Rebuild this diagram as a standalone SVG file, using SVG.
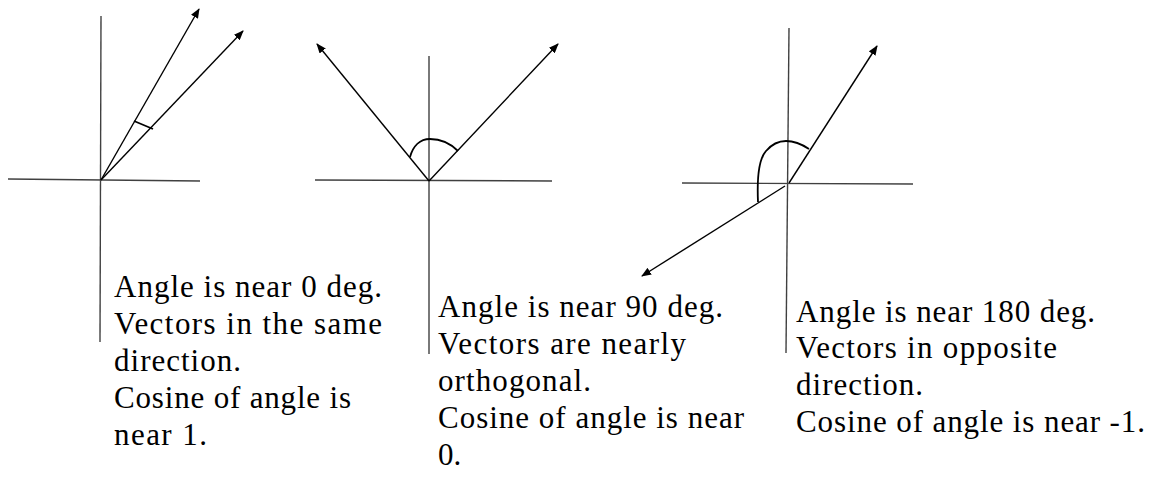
<svg xmlns="http://www.w3.org/2000/svg" width="1152" height="477" viewBox="0 0 1152 477">
<style>
.axis{stroke:#404040;stroke-width:1.4;fill:none}
.vec{stroke:#000;stroke-width:1.4;fill:none;marker-end:url(#arr)}
.arc{stroke:#000;stroke-width:1.8;fill:none}
.lbl{font-family:"Liberation Serif","DejaVu Serif",serif;font-size:31px;fill:#000}
</style>
<defs>
<marker id="arr" viewBox="0 0 10 8" refX="9" refY="4" markerWidth="10" markerHeight="8" markerUnits="userSpaceOnUse" orient="auto">
<path d="M0,0 L10,4 L0,8 z" fill="#000"/>
</marker>
</defs>
<rect width="1152" height="477" fill="#fff"/>
<g id="connectors">
<!-- diagram 1 -->
<line class="axis" x1="8" y1="179" x2="200" y2="181"/>
<line class="axis" x1="101" y1="16" x2="100" y2="342"/>
<line class="vec" x1="101" y1="180" x2="199" y2="9"/>
<line class="vec" x1="101" y1="180" x2="243" y2="31"/>
<line class="arc" x1="134" y1="121" x2="153" y2="129"/>
<!-- diagram 2 -->
<line class="axis" x1="315" y1="180" x2="552" y2="181"/>
<line class="axis" x1="429" y1="56" x2="429" y2="354"/>
<line class="vec" x1="429" y1="181" x2="317" y2="44"/>
<line class="vec" x1="429" y1="181" x2="558" y2="44"/>
<path class="arc" d="M410,157 C413,146 420,139 430,139 C443,139 452,145 458,151"/>
<!-- diagram 3 -->
<line class="axis" x1="682" y1="183" x2="913" y2="184"/>
<line class="axis" x1="789" y1="28" x2="786" y2="353"/>
<line class="vec" x1="789" y1="183" x2="877" y2="46"/>
<line class="vec" x1="785" y1="186" x2="642" y2="276"/>
<path class="arc" d="M758,202 C757,180 758,160 766,151 C772,144 778,141 786,141 C795,141 803,145 809,149"/>
</g>
<g id="label1" class="lbl">
<text x="114" y="297" textLength="268" lengthAdjust="spacing">Angle is near 0 deg.</text>
<text x="114" y="334" textLength="268" lengthAdjust="spacing">Vectors in the same</text>
<text x="114" y="371" textLength="127" lengthAdjust="spacing">direction.</text>
<text x="114" y="408" textLength="237" lengthAdjust="spacing">Cosine of angle is</text>
<text x="114" y="445" textLength="93" lengthAdjust="spacing">near 1.</text>
</g>
<g id="label2" class="lbl">
<text x="438" y="317" textLength="285" lengthAdjust="spacing">Angle is near 90 deg.</text>
<text x="438" y="354" textLength="248" lengthAdjust="spacing">Vectors are nearly</text>
<text x="438" y="391" textLength="153" lengthAdjust="spacing">orthogonal.</text>
<text x="438" y="428" textLength="306" lengthAdjust="spacing">Cosine of angle is near</text>
<text x="438" y="465">0.</text>
</g>
<g id="label3" class="lbl">
<text x="796" y="322" textLength="299" lengthAdjust="spacing">Angle is near 180 deg.</text>
<text x="796" y="358" textLength="261" lengthAdjust="spacing">Vectors in opposite</text>
<text x="796" y="395" textLength="127" lengthAdjust="spacing">direction.</text>
<text x="796" y="432" textLength="349" lengthAdjust="spacing">Cosine of angle is near -1.</text>
</g>
</svg>
